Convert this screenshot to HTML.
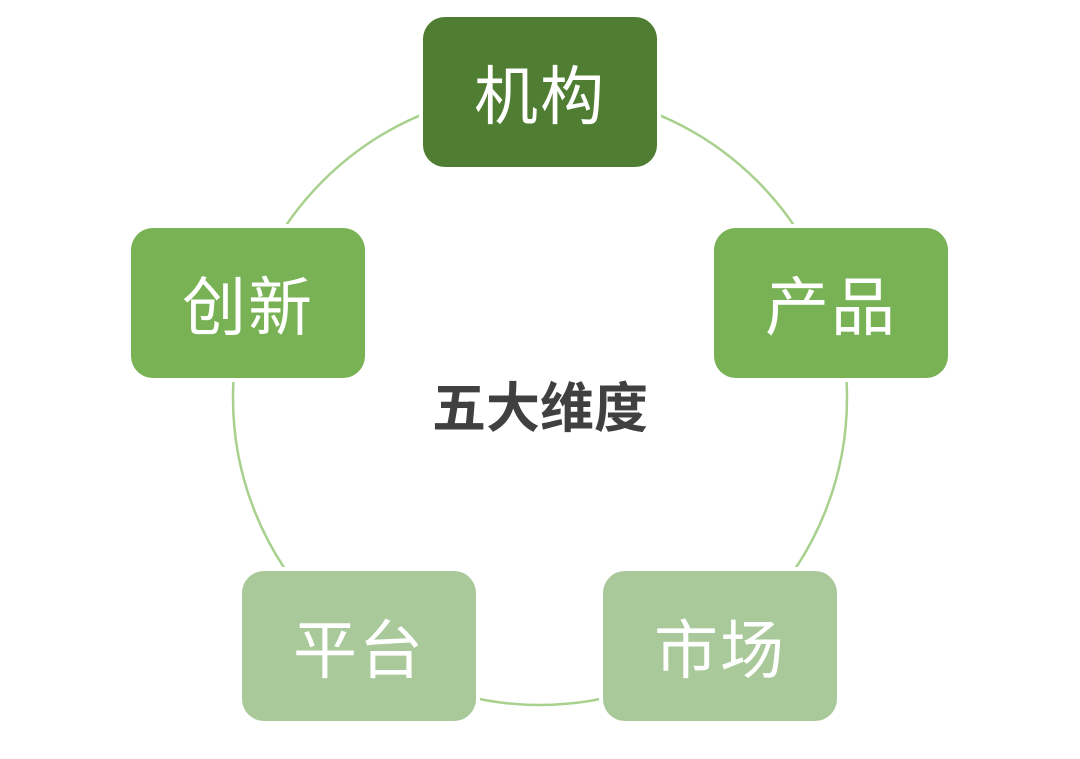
<!DOCTYPE html>
<html><head><meta charset="utf-8"><style>
body{margin:0;width:1080px;height:759px;background:#fff;position:relative;overflow:hidden;font-family:"Liberation Sans","Noto Sans CJK SC",sans-serif}
.b{position:absolute;width:234px;height:150px;border-radius:22px;color:#fff;font-size:64px;display:flex;align-items:center;justify-content:center;letter-spacing:2px;box-shadow:0 0 0 4px #fff}
</style></head><body>
<svg width="1080" height="759" style="position:absolute;left:0;top:0"><circle cx="540" cy="398" r="307" fill="none" stroke="#a9d18e" stroke-width="2.5"/></svg>
<div class="b" style="left:423px;top:17px;background:#4f7d32">机构</div>
<div class="b" style="left:714px;top:228px;background:#78b255">产品</div>
<div class="b" style="left:131px;top:228px;background:#78b255">创新</div>
<div class="b" style="left:242px;top:571px;background:#a9c99a">平台</div>
<div class="b" style="left:603px;top:571px;background:#a9c99a">市场</div>
<div style="position:absolute;left:390px;top:364px;width:300px;text-align:center;font-size:54px;font-weight:bold;color:#404040">五大维度</div>
</body></html>
